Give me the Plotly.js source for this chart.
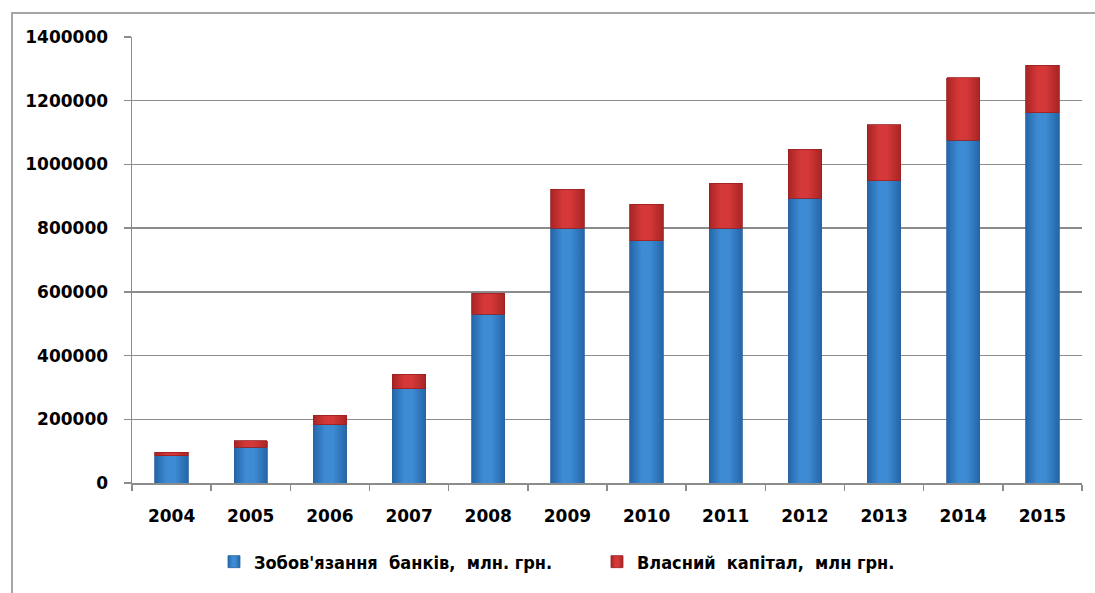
<!DOCTYPE html>
<html>
<head>
<meta charset="utf-8">
<script src="https://cdn.plot.ly/plotly-3.0.1.min.js"></script>
<style>
  html, body { margin: 0; padding: 0; background: #fff; overflow: hidden; }
  #wrap { position: relative; width: 1095px; height: 593px; overflow: hidden; }
  #chart { width: 1095px; height: 593px; }
  #frameTop { position: absolute; left: 11px; top: 12px; width: 1084px; height: 0;
              border-top: 2px solid #a6a6a6; pointer-events: none; }
  #frameLeft { position: absolute; left: 11px; top: 12px; width: 0; height: 581px;
               border-left: 2px solid #a6a6a6; pointer-events: none; }
</style>
</head>
<body>
<div id="wrap">
  <div id="chart"></div>
  <div id="frameTop"></div>
  <div id="frameLeft"></div>
</div>
<script>
// ---- data ----
var years = ['2004','2005','2006','2007','2008','2009','2010','2011','2012','2013','2014','2015'];
var liabilities = [85000, 112000, 183000, 296000, 530000, 800000, 760000, 800000, 894000, 949000, 1076000, 1162000];
var equity      = [11000, 20000, 29000, 46000, 66000, 122000, 115000, 141000, 154000, 175000, 196000, 150000];
var seriesNames = ["Зобов'язання  банків,  млн. грн.", "Власний  капітал,  млн грн."];
var yTicks = [0, 200000, 400000, 600000, 800000, 1000000, 1200000, 1400000];
var yTickLabels = ['0','200000','400000','600000','800000','1000000','1200000','1400000'];

var tickFont = {family: 'DejaVu Sans, Verdana, sans-serif', size: 17, color: '#000', weight: 'bold'};

var traces = [
  {type: 'bar', name: seriesNames[0], x: years, y: liabilities,
   marker: {color: '#3581cc', line: {color: '#2a64a0', width: 0.8}}, hoverinfo: 'none'},
  {type: 'bar', name: seriesNames[1], x: years, y: equity,
   marker: {color: '#cc2e2e', line: {color: '#9a1f1f', width: 0.8}}, hoverinfo: 'none'}
];

var layout = {
  width: 1095, height: 593,
  margin: {l: 132, r: 13, t: 37, b: 110, autoexpand: false},
  paper_bgcolor: '#ffffff', plot_bgcolor: '#ffffff',
  barmode: 'stack', bargap: 0.58,
  showlegend: true,
  legend: {orientation: 'h', x: 0.0863, xanchor: 'left', y: -0.177, yanchor: 'middle',
           font: {family: 'DejaVu Sans Condensed, DejaVu Sans, sans-serif', size: 18, color: '#000', weight: 700},
           traceorder: 'normal', itemwidth: 30, entrywidth: 338, bgcolor: 'rgba(0,0,0,0)'},
  xaxis: {type: 'category', showgrid: false, showline: true, linecolor: '#8c8c8c', linewidth: 1.5,
          ticks: 'outside', ticklen: 6, tickcolor: '#8c8c8c', tickwidth: 1.5, tickson: 'boundaries',
          tickfont: tickFont, ticklabelstandoff: 17, fixedrange: true},
  yaxis: {range: [0, 1400000], tickvals: yTicks, ticktext: yTickLabels,
          showgrid: true, gridcolor: '#8c8c8c', gridwidth: 1.5,
          showline: true, linecolor: '#8c8c8c', linewidth: 1.5, zeroline: false,
          ticks: 'outside', ticklen: 7, tickcolor: '#8c8c8c', tickwidth: 1.5,
          tickfont: tickFont, ticklabelstandoff: 12, fixedrange: true}
};

Plotly.newPlot('chart', traces, layout, {displayModeBar: false, staticPlot: true}).then(function(gd) {
  // horizontal gradients for a shaded-bar look
  var svg = gd.querySelector('svg.main-svg');
  var ns = 'http://www.w3.org/2000/svg';
  var defs = svg.querySelector('defs') || svg.insertBefore(document.createElementNS(ns, 'defs'), svg.firstChild);
  function grad(id, edge, mid) {
    var g = document.createElementNS(ns, 'linearGradient');
    g.setAttribute('id', id); g.setAttribute('x1', '0'); g.setAttribute('x2', '1'); g.setAttribute('y1', '0'); g.setAttribute('y2', '0');
    [[0, edge], [0.35, mid], [0.6, mid], [1, edge]].forEach(function(s) {
      var st = document.createElementNS(ns, 'stop');
      st.setAttribute('offset', s[0]); st.setAttribute('stop-color', s[1]);
      g.appendChild(st);
    });
    defs.appendChild(g);
  }
  grad('gBlue', '#2465a8', '#3d8bd3');
  grad('gRed', '#a82424', '#d43838');
  var traceGroups = gd.querySelectorAll('.barlayer .trace');
  var ids = ['gBlue', 'gRed'];
  traceGroups.forEach(function(tg, i) {
    tg.querySelectorAll('path').forEach(function(p) { p.style.fill = 'url(#' + ids[i] + ')'; });
  });
  var legPts = gd.querySelectorAll('.legend .traces');
  legPts.forEach(function(tg, i) {
    tg.querySelectorAll('.legendpoints path').forEach(function(p) { p.style.fill = 'url(#' + ids[i] + ')'; });
  });
});
</script>
</body>
</html>
